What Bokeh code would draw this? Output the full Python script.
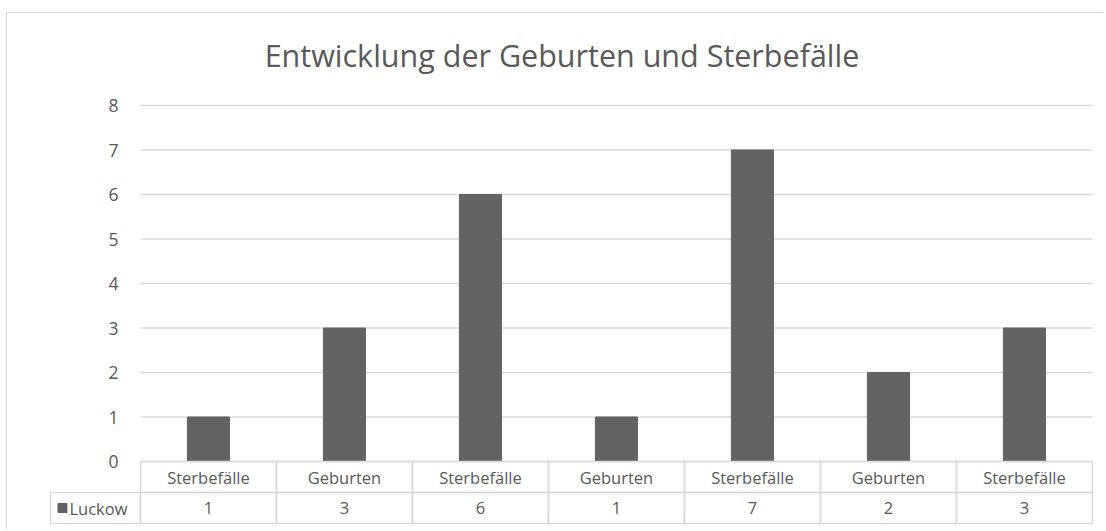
from bokeh.plotting import figure
from bokeh.models import Range1d, LinearAxis, FixedTicker, Title
from bokeh.core.properties import value
from bokeh.embed import file_html
from bokeh.resources import INLINE

# ---- data ----
categories = ["Sterbefälle", "Geburten", "Sterbefälle", "Geburten", "Sterbefälle", "Geburten", "Sterbefälle"]
luckow = [1, 3, 6, 1, 7, 2, 3]
series_name = "Luckow"
y_ticks = [0, 1, 2, 3, 4, 5, 6, 7, 8]
title_text = "Entwicklung der Geburten und Sterbefälle"

FONT = "Open Sans"
TXT = "#595959"
GRID = "#d9d9d9"
BAR = "#636363"

n = len(categories)
row_h = 0.697          # table row height in data units
legend_w = 0.662       # width of legend cell in data units
px = 1 / 136.0         # one pixel in x data units
py = 1 / 44.5          # one pixel in y data units

p = figure(width=1097, height=517, output_backend="svg", toolbar_location=None,
           x_range=Range1d(-0.669 - 20 * px, 7.015), y_range=Range1d(-1.483, 8.472 + 4 * py),
           x_axis_location=None, y_axis_location=None,
           min_border_left=22, min_border_right=10, min_border_top=67, min_border_bottom=3,
           background_fill_color="white", border_fill_color="white",
           styles={"margin-left": "6px", "margin-top": "12px",
                   "border-left": "1px solid #d9d9d9", "border-top": "1px solid #d9d9d9"})
p.outline_line_color = None
p.grid.visible = False

t = Title(text=title_text, align="center", text_font=FONT, text_font_size="30.5px",
          text_font_style="normal", text_color=TXT)
p.add_layout(t, "above")

# y axis
yaxis = LinearAxis(ticker=FixedTicker(ticks=y_ticks), fixed_location=0,
                   axis_line_color=None, major_tick_line_color=None, minor_tick_line_color=None,
                   major_tick_in=0, major_tick_out=0, major_label_standoff=22,
                   major_label_text_font=FONT, major_label_text_font_size="17.5px",
                   major_label_text_color=TXT)
p.add_layout(yaxis, "left")

# gridlines
p.segment(x0=[0] * len(y_ticks), x1=[n] * len(y_ticks), y0=y_ticks, y1=y_ticks,
          line_color=GRID, line_width=1.5)

# bars
xs = [i + 0.5 for i in range(n)]
p.vbar(x=xs, top=luckow, bottom=0, width=0.31, fill_color=BAR, line_color=BAR, line_width=1)

# data table: category row and value row
lefts = list(range(n))
rights = [i + 1 for i in range(n)]
p.quad(left=lefts, right=rights, top=[0] * n, bottom=[-row_h] * n,
       fill_color=None, line_color=GRID, line_width=1.5)
p.quad(left=lefts, right=rights, top=[-row_h] * n, bottom=[-2 * row_h] * n,
       fill_color=None, line_color=GRID, line_width=1.5)
p.quad(left=[-legend_w], right=[0], top=[-row_h], bottom=[-2 * row_h],
       fill_color=None, line_color=GRID, line_width=1.5)

p.text(x=xs, y=[-row_h / 2] * n, text=categories, text_align="center", text_baseline="middle",
       text_font=value(FONT), text_font_size="16.5px", text_color=TXT)
p.text(x=xs, y=[-1.5 * row_h] * n, text=[str(v) for v in luckow], text_align="center",
       text_baseline="middle", text_font=value(FONT), text_font_size="16.5px", text_color=TXT)

# legend key inside table
p.scatter(x=[-legend_w + 12 * px], y=[-1.5 * row_h], marker="square", size=9,
          fill_color=BAR, line_color=BAR)
p.text(x=[-legend_w], y=[-1.5 * row_h], text=[series_name], x_offset=19, text_align="left",
       text_baseline="middle", text_font=value(FONT), text_font_size="16.5px", text_color=TXT)

open("out.html", "w").write(file_html(p, INLINE))
